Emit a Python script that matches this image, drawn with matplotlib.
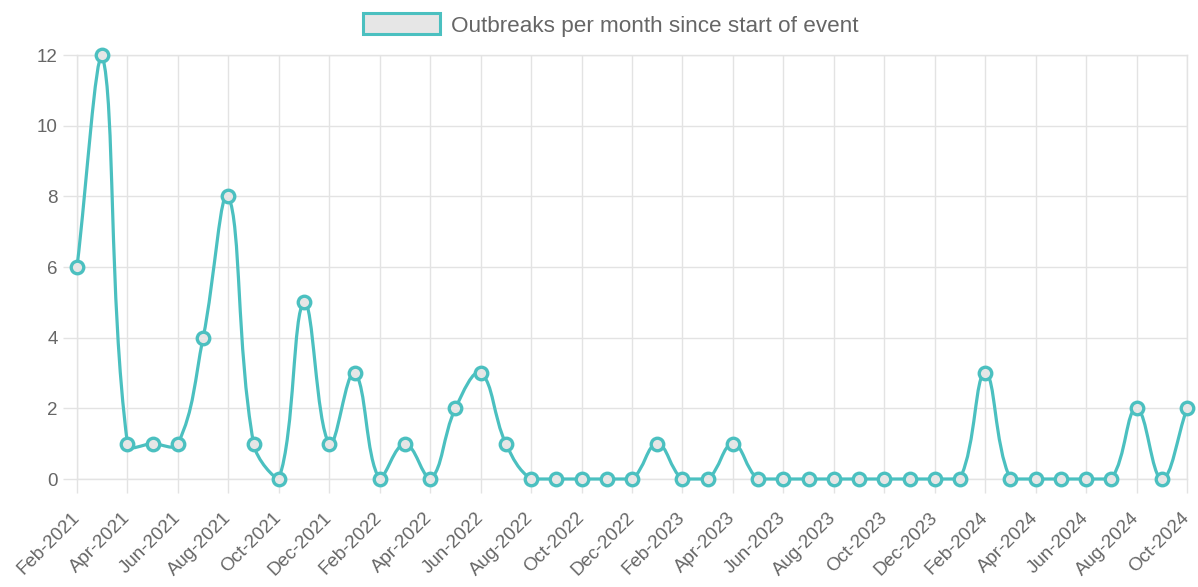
#!/usr/bin/env python3

import matplotlib
matplotlib.use("Agg")
import matplotlib.pyplot as plt
from matplotlib.patches import Patch, PathPatch
from matplotlib.path import Path
import numpy as np

months = [
    "Feb-2021", "Mar-2021", "Apr-2021", "May-2021", "Jun-2021", "Jul-2021",
    "Aug-2021", "Sep-2021", "Oct-2021", "Nov-2021", "Dec-2021", "Jan-2022",
    "Feb-2022", "Mar-2022", "Apr-2022", "May-2022", "Jun-2022", "Jul-2022",
    "Aug-2022", "Sep-2022", "Oct-2022", "Nov-2022", "Dec-2022", "Jan-2023",
    "Feb-2023", "Mar-2023", "Apr-2023", "May-2023", "Jun-2023", "Jul-2023",
    "Aug-2023", "Sep-2023", "Oct-2023", "Nov-2023", "Dec-2023", "Jan-2024",
    "Feb-2024", "Mar-2024", "Apr-2024", "May-2024", "Jun-2024", "Jul-2024",
    "Aug-2024", "Sep-2024", "Oct-2024",
]
outbreaks = [
    6, 12, 1, 1, 1, 4, 8, 1, 0, 5, 1, 3,
    0, 1, 0, 2, 3, 1, 0, 0, 0, 0, 0, 1,
    0, 0, 1, 0, 0, 0, 0, 0, 0, 0, 0, 0,
    3, 0, 0, 0, 0, 0, 2, 0, 2,
]
series_label = "Outbreaks per month since start of event"

TEAL = "#4bc0c0"
GRID = "#e3e3e3"
TEXT = "#666666"

W, H = 1198, 587
LEFT, RIGHT, TOP, BOTTOM = 77, 1187, 55, 479


def spline_path(xs, ys, sx, sy, tension=0.4, xlim=(0, 1), ylim=(0, 1)):
    # chart.js style cubic interpolation, control points in pixel space
    px = np.asarray(xs, float) * sx
    py = np.asarray(ys, float) * sy
    n = len(px)
    ctrl_prev = []
    ctrl_next = []
    for i in range(n):
        pi = max(i - 1, 0)
        ni = min(i + 1, n - 1)
        d01 = np.hypot(px[i] - px[pi], py[i] - py[pi])
        d12 = np.hypot(px[ni] - px[i], py[ni] - py[i])
        tot = d01 + d12
        s01 = d01 / tot if tot else 0
        s12 = d12 / tot if tot else 0
        dx = px[ni] - px[pi]
        dy = py[ni] - py[pi]
        ctrl_prev.append((px[i] - tension * s01 * dx, py[i] - tension * s01 * dy))
        ctrl_next.append((px[i] + tension * s12 * dx, py[i] + tension * s12 * dy))

    def clamp(p):
        x = min(max(p[0] / sx, xlim[0]), xlim[1])
        y = min(max(p[1] / sy, ylim[0]), ylim[1])
        return (x, y)

    verts = [(xs[0], ys[0])]
    codes = [Path.MOVETO]
    for i in range(1, n):
        verts += [clamp(ctrl_next[i - 1]), clamp(ctrl_prev[i]), (xs[i], ys[i])]
        codes += [Path.CURVE4] * 3
    return Path(verts, codes)


def main():
    plt.rcParams["font.family"] = ["Liberation Sans", "DejaVu Sans"]

    fig = plt.figure(figsize=(W / 100, H / 100), dpi=100)
    ax = fig.add_axes([LEFT / W, 1 - BOTTOM / H, (RIGHT - LEFT) / W, (BOTTOM - TOP) / H])

    x = np.arange(len(months))
    ax.set_xlim(0, len(months) - 1)
    ax.set_ylim(0, 12)

    sx = (RIGHT - LEFT) / (len(months) - 1)
    sy = (BOTTOM - TOP) / 12
    path = spline_path(x, outbreaks, sx, sy, xlim=(0, len(months) - 1), ylim=(0, 12))
    ax.add_patch(PathPatch(path, facecolor="none", edgecolor=TEAL, lw=2.3,
                           zorder=3, clip_on=False))
    ax.plot(x, outbreaks, linestyle="none", marker="o", markersize=9,
            markerfacecolor="#e6e6e6", markeredgecolor=TEAL, markeredgewidth=2.4,
            zorder=4, clip_on=False)

    ax.set_xticks(x[::2])
    ax.set_xticklabels(months[::2], rotation=45, ha="right", va="center",
                       rotation_mode="anchor", fontsize=14.5)
    ax.set_yticks(range(0, 13, 2))

    ax.grid(True, color=GRID, lw=1)
    ax.set_axisbelow(True)
    for s in ax.spines.values():
        s.set_color(GRID)
        s.set_linewidth(1)
    ax.tick_params(axis="both", colors=GRID, labelcolor=TEXT, labelsize=13.5,
                   length=10, width=1)
    ax.tick_params(axis="x", pad=16)
    ax.tick_params(axis="y", pad=4)

    handle = Patch(facecolor="#e6e6e6", edgecolor=TEAL, lw=2.2)
    fig.legend([handle], [series_label], loc="center",
               bbox_to_anchor=(611 / W, 1 - 25 / H), frameon=False,
               handlelength=3.4, handleheight=1.05, handletextpad=0.5,
               prop={"size": 16.2}, labelcolor=TEXT)

    fig.savefig("out.png", dpi=100, facecolor="white")
    plt.close(fig)


if __name__ == "__main__":
    main()
